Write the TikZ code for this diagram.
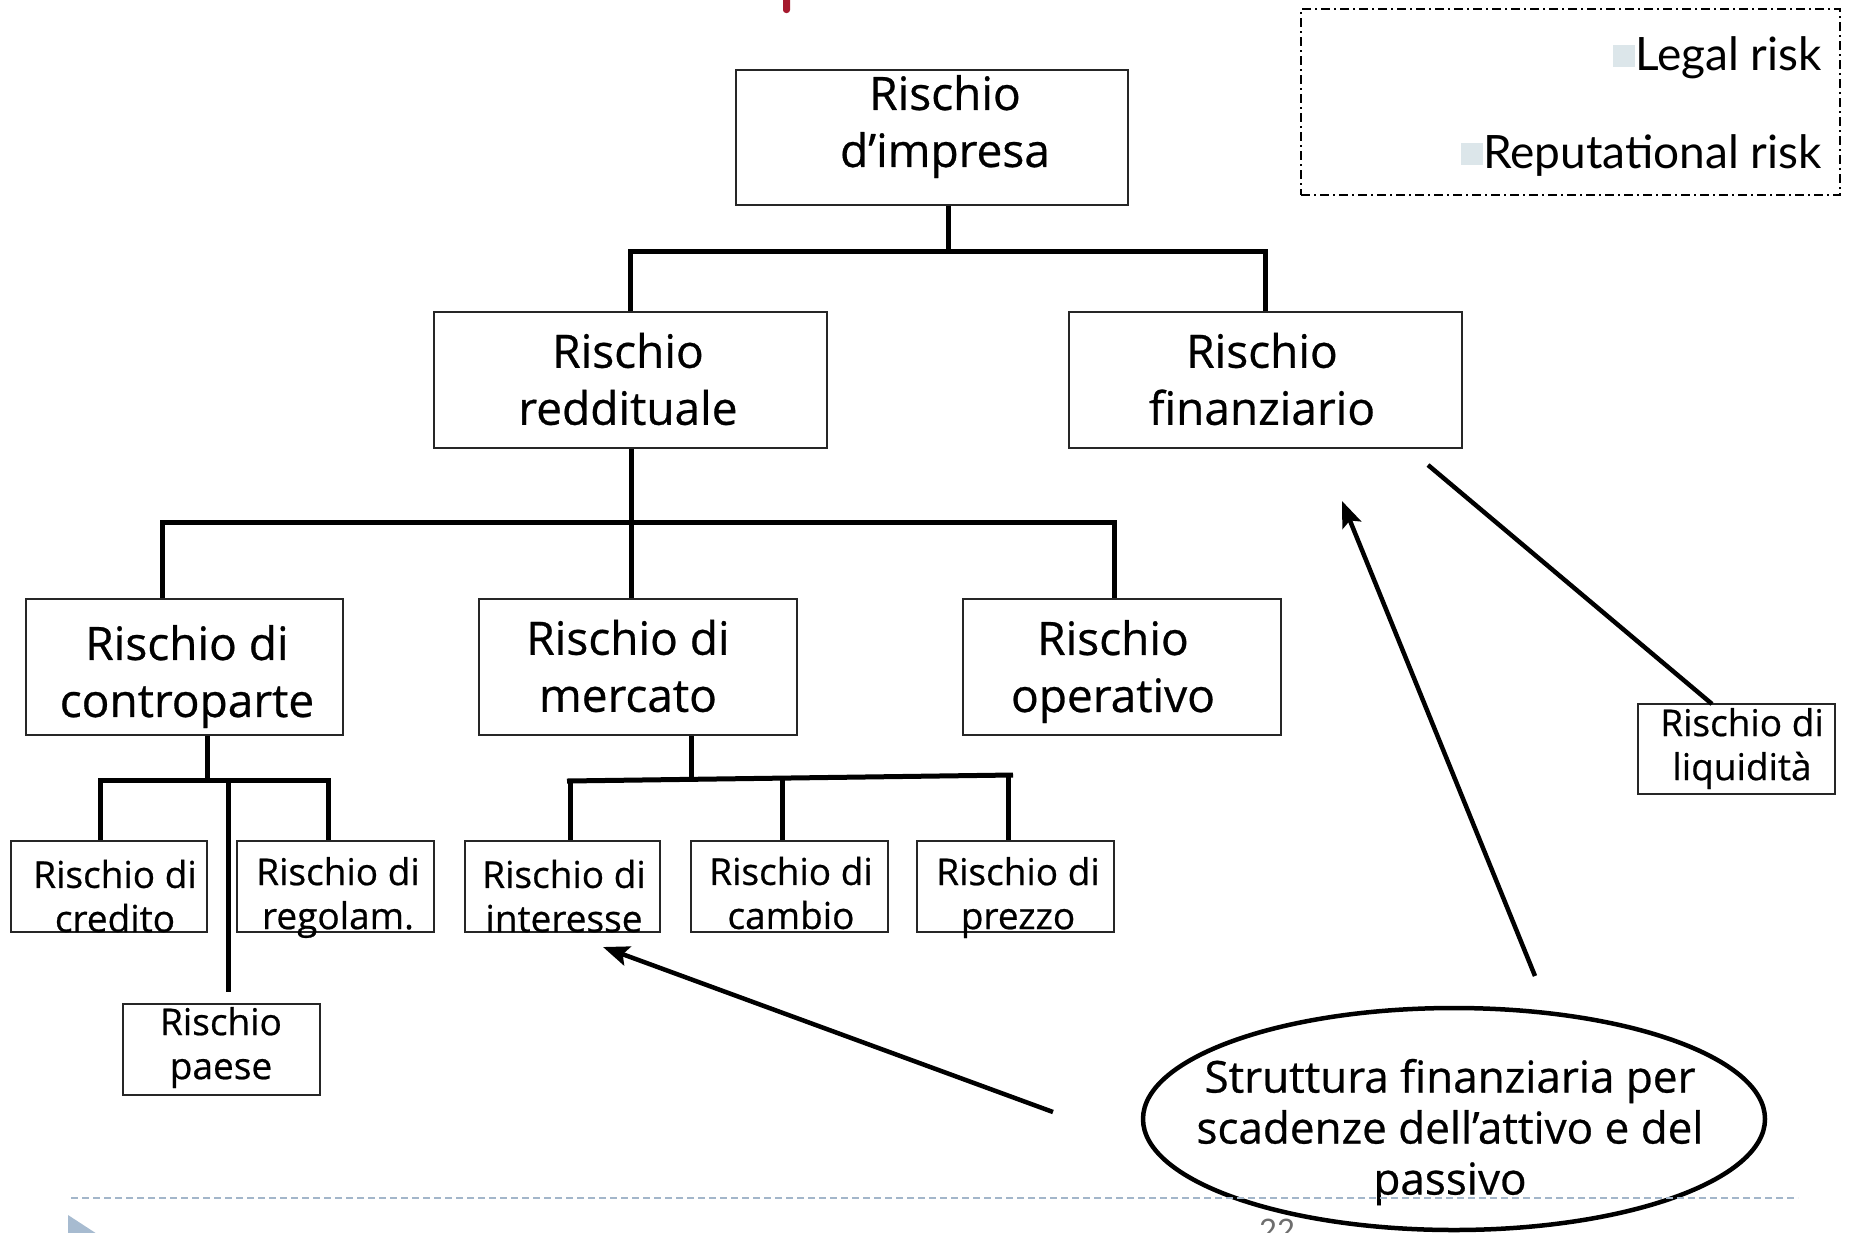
\documentclass[tikz,border=0pt]{standalone}
\usepackage{fontspec}
\setmainfont{Open Sans}[FakeBold=0.6]
\newfontfamily\legfont{Lato}
\usetikzlibrary{shapes.geometric,arrows.meta}
\definecolor{redmark}{HTML}{A6192E}
\definecolor{dashblue}{HTML}{A3B6CA}
\definecolor{sqcol}{HTML}{DCE6EA}
\definecolor{tricol}{HTML}{A7BBD0}
\definecolor{pagenum}{HTML}{6E6E6E}
\tikzset{
  rbox/.style={draw=black!85, line width=2pt, rectangle, inner sep=0pt},
  bsz/.style 2 args={minimum width=#1, minimum height=#2},
  big/.style={font=\fontsize{46}{57}\selectfont, align=center, inner sep=0pt},
  small/.style={font=\fontsize{37}{44}\selectfont, align=center, inner sep=0pt},
  etext/.style={font=\fontsize{44}{51}\selectfont, align=center, inner sep=0pt},
  legtext/.style={font=\legfont\fontsize{46}{56}\selectfont, inner sep=0pt},
  conn/.style={line width=5pt},
  arr/.style={line width=4.5pt, -{Stealth[length=26pt,width=20pt,inset=5pt]}},
  plainline/.style={line width=4.5pt},
}
\begin{document}
\begin{tikzpicture}[x=1pt,y=-1pt]
\useasboundingbox (0,0) rectangle (1849,1232);
\fill[white] (0,0) rectangle (1849,1232);

% red mark at top
\fill[redmark, rounded corners=3pt] (783,-6) rectangle (790,13);

% legend box
\node[draw, line width=1.6pt, dash pattern=on 9pt off 4pt on 2pt off 4pt, bsz={539pt}{186pt}, inner sep=0pt] (leg) at (1570.5,102) {};
\node[legtext, anchor=base east] (lr) at (1822,70) {Legal risk};
\node[legtext, anchor=base east] (rr) at (1822,168) {Reputational risk};
\fill[sqcol] (lr.base west) ++(-22,-3) rectangle ++(22,-22);
\fill[sqcol] (rr.base west) ++(-22,-3) rectangle ++(22,-22);

% boxes
\node[rbox, bsz={392pt}{135pt}] (imp) at (932,137.5) {};
\node[rbox, bsz={393pt}{136pt}] (red) at (630.5,380) {};
\node[rbox, bsz={393pt}{136pt}] (fin) at (1265.5,380) {};
\node[rbox, bsz={317pt}{136pt}] (con) at (184.5,667) {};
\node[rbox, bsz={318pt}{136pt}] (mer) at (638,667) {};
\node[rbox, bsz={318pt}{136pt}] (ope) at (1122,667) {};
\node[rbox, bsz={196pt}{91pt}] (cre) at (109,886.5) {};
\node[rbox, bsz={197pt}{91pt}] (reg) at (335.5,886.5) {};
\node[rbox, bsz={197pt}{91pt}] (pae) at (221.5,1049.5) {};
\node[rbox, bsz={195pt}{91pt}] (int) at (562.5,886.5) {};
\node[rbox, bsz={197pt}{91pt}] (cam) at (789.5,886.5) {};
\node[rbox, bsz={197pt}{91pt}] (pre) at (1015.5,886.5) {};
\node[rbox, bsz={197pt}{90pt}] (liq) at (1736.5,749) {};

% box texts
\node[big] (timp) at (945,126.5) {Rischio\\d’impresa};
\node[big] (tred) at (628,379) {Rischio\\reddituale};
\node[big] (tfin) at (1262,379) {Rischio\\finanziario};
\node[big] (tcon) at (187,676.5) {Rischio di\\controparte};
\node[big] (tmer) at (628,666) {Rischio di\\mercato};
\node[big] (tope) at (1113,671.5) {Rischio\\operativo};
\node[small] (tcre) at (115,896) {Rischio di\\credito};
\node[small] (treg) at (338,897.5) {Rischio di\\regolam.};
\node[small] (tpae) at (221,1047.5) {Rischio\\paese};
\node[small] (tint) at (564,896) {Rischio di\\interesse};
\node[small] (tcam) at (791,893) {Rischio di\\cambio};
\node[small] (tpre) at (1018,897.5) {Rischio di\\prezzo};
\node[small] (tliq) at (1742,748.5) {Rischio di\\liquidità};

% tree connectors level 1-2
\coordinate (j1) at (948,251);
\draw[conn] (imp.south -| j1) -- (j1);
\draw[conn] (red.north) |- (j1) -| (fin.north);

% level 2-3
\coordinate (j2) at (631,522);
\draw[conn] (red.south -| j2) -- (mer.north -| j2);
\coordinate (c1) at (162,522);
\coordinate (c3) at (1114,522);
\draw[conn] (con.north -| c1) -- (c1) -- (c3) -- (ope.north -| c3);

% controparte group
\coordinate (j3) at (207,780);
\coordinate (k1) at (100,780);
\coordinate (k2) at (328,780);
\coordinate (k3) at (228,780);
\coordinate (k3e) at (228,992);
\draw[conn] (con.south -| j3) -- (j3);
\draw[conn] (cre.north -| k1) -- (k1) -- (k2) -- (reg.north -| k2);
\draw[conn] (k3) -- (k3e);

% mercato group
\coordinate (jm) at (691,778);
\coordinate (h1) at (567,781);
\coordinate (h2) at (1013,775);
\coordinate (d1) at (570,781);
\coordinate (d2) at (782,777);
\coordinate (d3) at (1008,776);
\draw[conn] (mer.south -| jm) -- (jm);
\draw[conn] (h1) -- (h2);
\draw[conn] (d1) -- (int.north -| d1);
\draw[conn] (d2) -- (cam.north -| d2);
\draw[conn] (d3) -- (pre.north -| d3);

% ellipse
\node[draw, ellipse, line width=4.5pt, bsz={622pt}{222pt}, inner sep=0pt] (ell) at (1454,1119) {};
\node[etext] (tell) at (1450,1132) {Struttura finanziaria per\\scadenze dell’attivo e del\\passivo};

% arrows
\coordinate (a1s) at (1535,976);
\coordinate (a1e) at (1342,501);
\coordinate (a2s) at (1053,1112);
\coordinate (a2e) at (603,947);
\draw[arr] (a1s) -- (a1e);
\draw[arr] (a2s) -- (a2e);
\coordinate (l1s) at (1428,465);
\coordinate (l1e) at (1712,704);
\draw[plainline] (l1s) -- (l1e);

% footer
\coordinate (f1) at (71,1198);
\coordinate (f2) at (1798,1198);
\draw[dashblue, line width=1.8pt, dash pattern=on 7pt off 4pt] (f1) -- (f2);
\fill[tricol] (68,1215) -- (114,1245) -- (68,1275) -- cycle;
\node[font=\legfont\fontsize{31}{36}\selectfont, text=pagenum, anchor=north, inner sep=0pt] (pg) at (1277,1219) {22};
\end{tikzpicture}
\end{document}
